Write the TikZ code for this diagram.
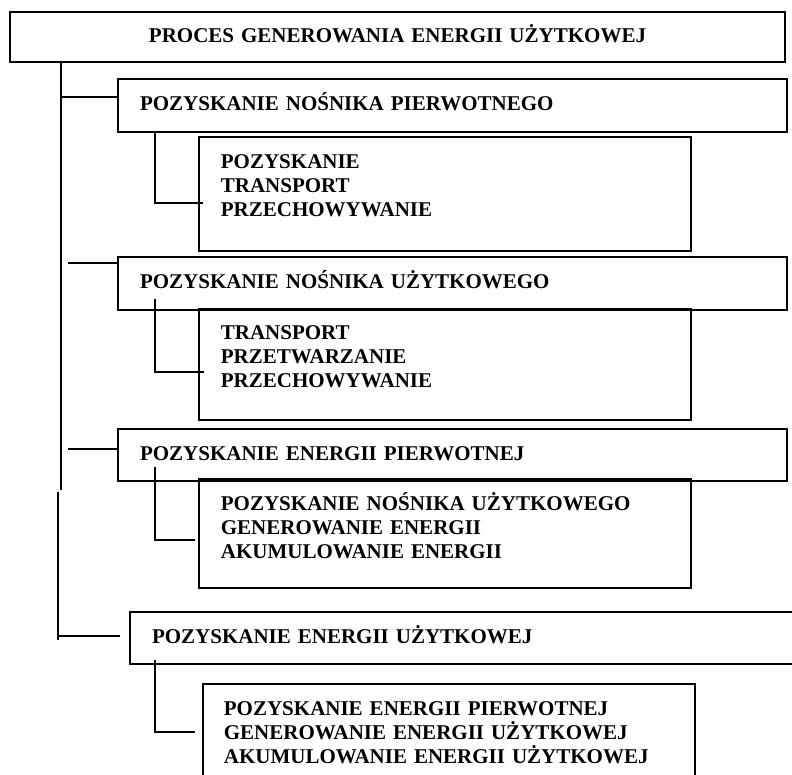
\documentclass[tikz,border=0pt]{standalone}
\usepackage{fontspec}
\setmainfont{Liberation Serif}
\begin{document}
\begin{tikzpicture}[x=1pt, y=-1pt, line width=1.8pt,
    boxfont/.style={font=\bfseries\fontsize{21pt}{24pt}\selectfont},
    head/.style={draw, boxfont, anchor=north west, outer sep=0pt, inner xsep=22pt, inner ysep=0pt,
      minimum height=52pt, text height=14pt, text depth=4pt, text width=625pt, align=left},
    listbox/.style={draw, anchor=north west, outer sep=0pt, inner sep=0pt, minimum width=492pt},
    listtext/.style={boxfont, anchor=base west, inner sep=0pt, text width=460pt, align=left}]
    \useasboundingbox (0,0) rectangle (792,774);
    \clip (0,0) rectangle (792,774);

    % Title box
    \node[head, text width=731pt, minimum height=50pt, align=center] (proces) at (10,12)
      {PROCES GENEROWANIA ENERGII UŻYTKOWEJ};

    % Main stages
    \node[head, minimum height=53pt] (nosPierw) at (118,79) {POZYSKANIE NOŚNIKA PIERWOTNEGO};
    \node[head, minimum height=53pt] (nosUzyt) at (118,257) {POZYSKANIE NOŚNIKA UŻYTKOWEGO};
    \node[head] (enPierw) at (118,429) {POZYSKANIE ENERGII PIERWOTNEJ};
    \node[head] (enUzyt) at (130,612) {POZYSKANIE ENERGII UŻYTKOWEJ};

    % Lists of steps
    \node[listbox, minimum height=114pt] (lstA) at (199,137) {};
    \node[listtext] (txtA) at ([shift={(21pt,-31pt)}]lstA.north west)
      {POZYSKANIE\\TRANSPORT\\PRZECHOWYWANIE};
    \node[listbox, minimum height=111pt] (lstB) at (199,309) {};
    \node[listtext] (txtB) at ([shift={(21pt,-30pt)}]lstB.north west)
      {TRANSPORT\\PRZETWARZANIE\\PRZECHOWYWANIE};
    \node[listbox, minimum height=109pt] (lstC) at (199,479) {};
    \node[listtext] (txtC) at ([shift={(21pt,-31pt)}]lstC.north west)
      {POZYSKANIE NOŚNIKA UŻYTKOWEGO\\GENEROWANIE ENERGII\\AKUMULOWANIE ENERGII};
    \node[listbox, minimum height=120pt] (lstD) at (203,684) {};
    \node[listtext] (txtD) at ([shift={(20pt,-31pt)}]lstD.north west)
      {POZYSKANIE ENERGII PIERWOTNEJ\\GENEROWANIE ENERGII UŻYTKOWEJ\\AKUMULOWANIE ENERGII UŻYTKOWEJ};

    % Trunk
    \coordinate (trA) at (61,62);
    \coordinate (trB) at (61,490);
    \coordinate (trC) at (58,492);
    \coordinate (trD) at (58,640);
    \draw (trA) -- (trB);
    \draw (trC) -- (trD);

    % Branches to main stages
    \coordinate (brA) at (61,97);
    \coordinate (brB) at (68,263);
    \coordinate (brC) at (68,449);
    \coordinate (brD) at (58,636);
    \coordinate (brDe) at (120,636);
    \draw (brA) -- (brA -| nosPierw.west);
    \draw (brB) -- (brB -| nosUzyt.west);
    \draw (brC) -- (brC -| enPierw.west);
    \draw (brD) -- (brDe);

    % Elbows to the lists
    \coordinate (elA) at (155,203);
    \coordinate (elB) at (155,372);
    \coordinate (elC) at (155,540);
    \coordinate (elD) at (155,732);
    \draw (elA |- nosPierw.south) -- (elA) -- ([xshift=4pt]elA -| lstA.west);
    \draw (155,299) -- (elB) -- ([xshift=5pt]elB -| lstB.west);
    \draw (155,467) -- (elC) -- ([xshift=-4pt]elC -| lstC.west);
    \draw (155,660) -- (elD) -- ([xshift=-8pt]elD -| lstD.west);
\end{tikzpicture}
\end{document}
